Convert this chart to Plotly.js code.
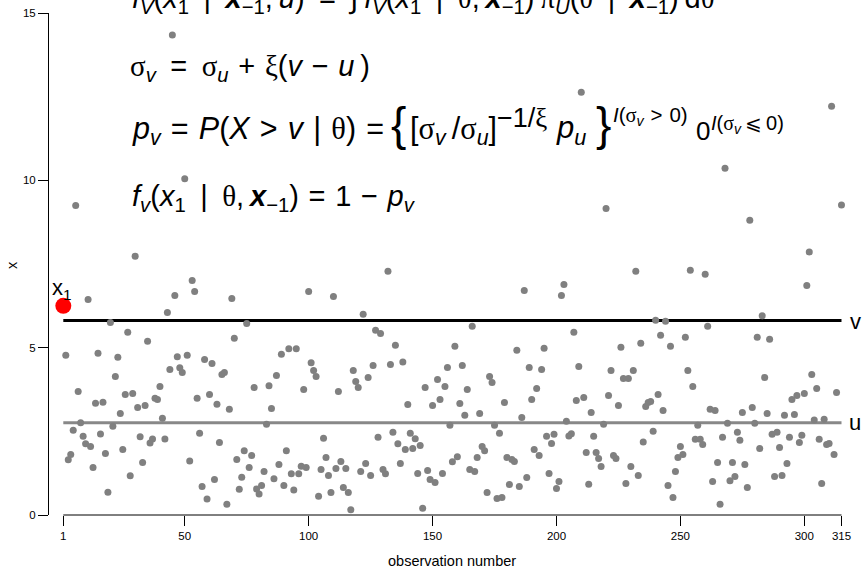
<!DOCTYPE html>
<html><head><meta charset="utf-8">
<script src="https://cdn.plot.ly/plotly-3.0.1.min.js"></script>
<style>html,body{margin:0;padding:0;background:#fff}</style>
</head><body><div id="chart" style="width:863px;height:567px"></div>
<script>
// ---- data ----
const firstObs = 1;            // x1, drawn in red
const firstValue = 6.25;
// observations 2..315 (null = not visible)
const greyValues = [
  4.77, 1.65, 1.81, 2.53, 9.25, 3.69, 2.76, 2.35, 2.13, 6.44,
  2.05, 1.42, 3.34, 4.83, 2.42, 3.37, 1.84, 0.68, 5.75, 2.65,
  4.14, 4.71, 3.03, 1.96, 3.60, 5.46, 1.17, 3.63, 7.73, 3.21,
  2.34, 1.57, 3.27, 5.19, 2.15, 2.27, 3.49, 3.45, 3.84, 2.89,
  2.27, 6.05, 4.35, 14.34, 6.56, 4.73, 4.40, 4.26, 10.05, 4.77,
  1.61, 7.01, 6.68, 3.49, 2.44, 0.85, 4.65, 0.48, 3.60, 4.53,
  1.06, 3.31, 2.17, 4.20, 4.26, 0.32, 3.16, 6.47, 5.28, 1.66,
  0.77, 1.13, 1.92, 5.72, 1.42, 1.78, 3.81, 0.78, 0.63, 0.88,
  1.30, 2.71, 3.86, 3.18, 1.08, 4.17, 1.51, 4.80, 0.88, 1.92,
  4.97, 1.23, 0.75, 4.97, 1.23, 1.46, 3.75, 1.42, 6.68, 4.55,
  4.32, 4.14, 0.56, 1.36, 2.29, 1.72, 1.18, 0.67, 6.53, 1.39,
  3.69, 1.60, 0.82, 1.39, 0.67, 0.16, 4.32, 3.99, 3.81, 1.30,
  6.00, 1.54, 4.11, 1.18, 4.47, 5.52, 2.32, 5.42, 1.36, 1.23,
  7.28, 4.50, 2.47, 5.07, 2.13, 1.54, 4.57, 1.96, 3.30, 2.44,
  1.99, 2.28, 1.24, 2.08, 0.20, 3.81, 1.33, 1.06, 3.27, 0.97,
  4.05, 3.45, 1.24, 3.84, 4.41, 2.68, 1.59, 5.04, 1.74, 3.33,
  4.47, 2.98, 3.75, 1.36, 5.64, 1.30, 1.72, 3.03, 2.05, 1.92,
  0.67, 4.14, 3.96, 2.68, 0.49, 2.44, 0.52, 3.36, 1.72, 0.91,
  1.66, 1.60, 4.92, 0.85, 2.91, 6.71, 1.12, 4.41, 3.45, 1.96,
  3.78, 1.78, 4.35, 4.98, 2.35, 1.24, 2.14, 2.41, 0.79, 1.00,
  6.56, 6.89, 2.80, 2.36, 2.43, 5.46, 3.42, 4.44, 12.63, 3.51,
  1.87, 0.92, 3.06, 2.35, 1.87, 1.69, 1.45, 2.71, 9.16, 3.57,
  4.32, 1.78, 1.69, 3.27, 5.01, 4.08, 0.94, 4.08, 1.45, 4.32,
  7.28, 1.18, 5.13, 2.18, 3.24, 3.36, 3.39, 2.50, 5.82, 3.60,
  5.37, 3.12, 5.79, 0.88, 5.04, 0.52, 1.30, 1.72, 2.05, 1.81,
  5.31, 4.32, 7.31, 3.84, 2.26, 2.68, 2.26, 2.11, 7.19, 5.64,
  3.16, 1.00, 3.12, 1.57, 0.32, 2.32, 10.36, 2.74, 1.02, 1.57,
  1.15, 2.47, 2.23, 3.06, 1.51, 0.82, 8.81, 3.21, 2.74, 5.31,
  1.99, 5.95, 4.11, 3.03, 5.25, 2.41, 1.15, 2.47, 2.02, 1.18,
  2.98, 1.54, 2.32, 3.45, 3.00, 3.57, 2.17, 2.38, 3.63, 6.86,
  7.86, 4.20, 2.84, 3.78, 2.26, 0.94, 2.86, 2.11, 2.14, 12.21,
  1.81, 3.66, null, 9.26
];
const greyObs = greyValues.map((_, i) => i + 2);
const thresholdV = 5.81;
const thresholdU = 2.76;
const lineSpan = [1, 315];
const xTicks = [1, 50, 100, 150, 200, 250, 300, 315];
const yTicks = [0, 5, 10, 15];

// ---- layout helpers (pixel -> paper) ----
const L = 49, R = 855, T = 13, B = 515;
const px = x => (x - L) / (R - L);
const py = y => (B - y) / (B - T);
const FONT = 'Liberation Sans, Arial, sans-serif';
const g = s => `<span style="font-family:'Liberation Serif'">${s}</span>`;
const E = '\u2002';   // wide operator spacing (relations)
const S = '\u2004';   // medium operator spacing
const s2 = '\u2009';  // thin space

const traces = [
  {x: lineSpan, y: [thresholdU, thresholdU], mode: 'lines', line: {color: '#888888', width: 3}, hoverinfo: 'skip'},
  {x: lineSpan, y: [thresholdV, thresholdV], mode: 'lines', line: {color: '#000000', width: 3}, hoverinfo: 'skip'},
  {x: greyObs, y: greyValues, mode: 'markers', marker: {color: '#808080', size: 7}, cliponaxis: false},
  {x: [firstObs], y: [firstValue], mode: 'markers', marker: {color: '#ff0000', size: 16}, cliponaxis: false}
];

const eq1 = `<i>f</i><sub><i>V</i></sub>(<i>x</i><sub>1</sub>${E}|${E}<b><i>x</i></b><sub>−1</sub>,${s2}<i>u</i>)${E}=${E}∫${s2}<i>f</i><sub><i>V</i></sub>(<i>x</i><sub>1</sub>${E}|${E}${g('θ')},${s2}<b><i>x</i></b><sub>−1</sub>)${s2}${g('π')}<sub><i>U</i></sub>(${g('θ')}${E}|${E}<b><i>x</i></b><sub>−1</sub>)${s2}d${g('θ')}`;
const eq2 = `${g('σ')}<sub><i>v</i></sub>${E}=${E}${g('σ')}<sub><i>u</i></sub>${S}+${S}${g('ξ')}(<i>v</i>${S}−${S}<i>u</i>${s2})`;
const eq3a = `<i>p</i><sub><i>v</i></sub>${S}=${S}<i>P</i>(<i>X</i>${S}&gt;${S}<i>v</i>${S}|${S}${g('θ')})${S}=`;
const eq3open = `{`;
const eq3ratio = `[${g('σ')}<sub><i>v</i></sub>${s2}/${g('σ')}<sub><i>u</i></sub>]`;
const eq3pow = `−1/${g('ξ')}`;
const eq3pu = `<i>p</i><sub><i>u</i></sub>`;
const eq3close = `}`;
const eq3c = `<i>I</i>(${g('σ')}<sub><i>v</i></sub>${S}&gt;${S}0)`;
const eq3d = `0`;
const eq3e = `<i>I</i>(${g('σ')}<sub><i>v</i></sub>${s2}⩽${s2}0)`;
const eq4 = `<i>f</i><sub><i>v</i></sub>(<i>x</i><sub>1</sub>${E}|${E}${g('θ')},${s2}<b><i>x</i></b><sub>−1</sub>)${S}=${S}1${S}−${S}<i>p</i><sub><i>v</i></sub>`;

function ann(text, x, y, size, xanchor, extra) {
  return Object.assign({text: text, xref: 'paper', yref: 'paper', x: px(x), y: py(y),
    xanchor: xanchor || 'left', yanchor: 'middle', showarrow: false,
    font: {family: FONT, size: size, color: '#000'}}, extra || {});
}

const annotations = [
  ann(eq1, 130, -0.5, 29),
  ann(eq2, 128, 68, 29),
  ann(eq3a, 130, 130, 30.5),
  ann(eq3open, 389, 123.5, 46),
  ann(eq3ratio, 408, 130, 30.5),
  ann(eq3pow, 495, 118, 27),
  ann(eq3pu, 554, 130, 31),
  ann(eq3close, 594, 123.5, 46),
  ann(eq3c, 611, 116, 20.5),
  ann(eq3d, 694, 131, 26),
  ann(eq3e, 709, 124, 20),
  ann(eq4, 130, 198, 29),
  ann('x<sub>1</sub>', 62, 289, 22, 'center'),
  ann('v', 855, 321, 22, 'center'),
  ann('u', 855, 423, 22, 'center'),
  ann('x', 12, 265, 14.5, 'center', {textangle: -90}),
  ann('observation number', 452, 561, 14.5, 'center')
];

const layout = {
  width: 863, height: 567,
  margin: {l: L, r: 863 - R, t: T, b: 567 - B, pad: 0},
  paper_bgcolor: '#fff', plot_bgcolor: '#fff',
  showlegend: false,
  font: {family: FONT, color: '#000'},
  xaxis: {range: [-4.771, 320.45], tickvals: xTicks, ticktext: xTicks.map(String),
    ticks: 'outside', ticklen: 10, tickwidth: 1, tickcolor: '#000',
    showline: false, showgrid: false, zeroline: false,
    tickfont: {family: FONT, size: 11.5, color: '#000'}},
  yaxis: {range: [0, 15], tickvals: yTicks, ticktext: yTicks.map(String),
    ticks: 'outside', ticklen: 10, tickwidth: 1, tickcolor: '#000',
    showline: true, linecolor: '#000', linewidth: 1, showgrid: false, zeroline: false,
    tickfont: {family: FONT, size: 11.5, color: '#000'}},
  shapes: [{type: 'line', xref: 'x', yref: 'paper', x0: lineSpan[0], x1: lineSpan[1], y0: 0, y1: 0,
    line: {color: '#000', width: 1}}],
  annotations: annotations
};

Plotly.newPlot('chart', traces, layout, {staticPlot: true, displayModeBar: false});
</script></body></html>
